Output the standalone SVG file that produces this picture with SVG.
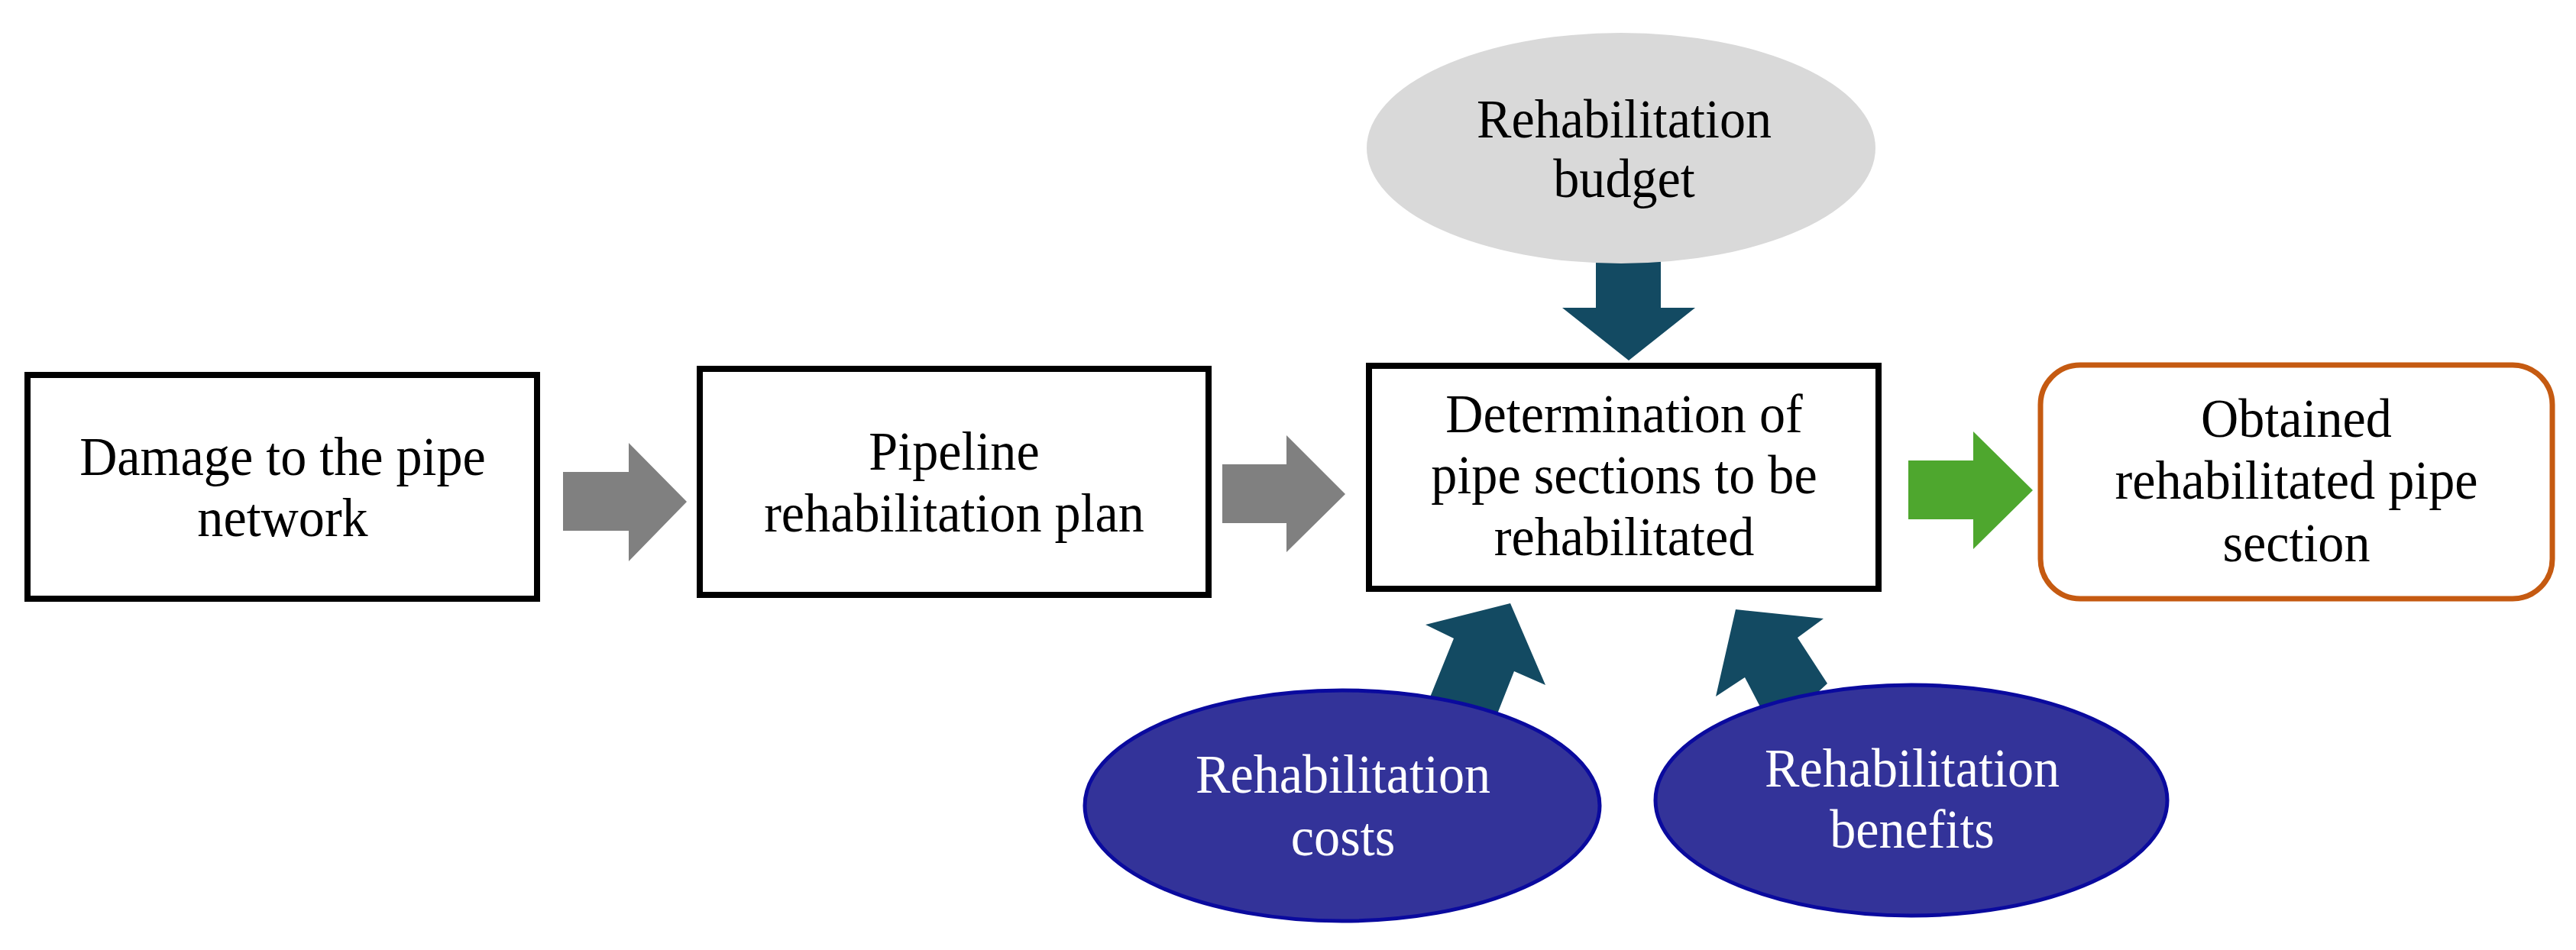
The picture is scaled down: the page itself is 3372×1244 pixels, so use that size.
<svg xmlns="http://www.w3.org/2000/svg" width="3372" height="1244" viewBox="0 0 3372 1244">
<style>
  .box { fill: #ffffff; stroke: #000000; stroke-width: 8; }
  .out { fill: #ffffff; stroke: #c55a11; stroke-width: 7; }
  .budget { fill: #d9d9d9; stroke: none; }
  .blue { fill: #333399; stroke: #0a0a9e; stroke-width: 5; }
  .t { font-family: "Liberation Serif", "Times New Roman", serif; font-size: 71px; text-anchor: middle; fill: #000000; }
  .w { fill: #ffffff; }
  .gray { fill: #808080; }
  .green { fill: #4ea72e; }
  .teal { fill: #134a62; }
</style>
<rect width="3372" height="1244" fill="#ffffff"/>
<g id="connectors">
  <polygon id="arrow-damage-plan" class="gray" points="737,618 823,618 823,580 899,657 823,735 823,695 737,695"/>
  <polygon id="arrow-plan-determination" class="gray" points="1600,608 1684,608 1684,570 1761,647 1684,723 1684,685 1600,685"/>
  <polygon id="arrow-determination-obtained" class="green" points="2498,603 2583,603 2583,565 2661,642 2583,719 2583,680 2498,680"/>
  <polygon id="arrow-budget" class="teal" points="2089,340 2174,340 2174,403 2219,403 2132,472 2045,403 2089,403"/>
  <polygon id="arrow-costs" class="teal" points="1977,790 2023,897 1982,879 1950,960 1865,930 1903,836 1866,818"/>
  <polygon id="arrow-benefits" class="teal" points="2272,798 2387,810 2353,835 2392,895 2322,960 2284,887 2246,912"/>
</g>
<g id="node-damage">
  <rect class="box" x="36" y="491" width="667" height="293"/>
  <g transform="translate(370 0) scale(0.96 1)">
    <text class="t" x="0" y="622">Damage to the pipe</text>
    <text class="t" x="0" y="702">network</text>
  </g>
</g>
<g id="node-plan">
  <rect class="box" x="916" y="483" width="666" height="296"/>
  <g transform="translate(1249 0) scale(0.96 1)">
    <text class="t" x="0" y="615">Pipeline</text>
    <text class="t" x="0" y="696">rehabilitation plan</text>
  </g>
</g>
<g id="node-determination">
  <rect class="box" x="1792" y="479" width="667" height="292"/>
  <g transform="translate(2126 0) scale(0.96 1)">
    <text class="t" x="0" y="566">Determination of</text>
    <text class="t" x="0" y="646">pipe sections to be</text>
    <text class="t" x="0" y="727">rehabilitated</text>
  </g>
</g>
<g id="node-obtained">
  <rect class="out" x="2671" y="478" width="670" height="306" rx="52" ry="52"/>
  <g transform="translate(3006 0) scale(0.96 1)">
    <text class="t" x="0" y="572">Obtained</text>
    <text class="t" x="0" y="653">rehabilitated pipe</text>
    <text class="t" x="0" y="735">section</text>
  </g>
</g>
<g id="node-budget">
  <ellipse class="budget" cx="2122" cy="194" rx="333" ry="151"/>
  <g transform="translate(2126 0) scale(0.96 1)">
    <text class="t" x="0" y="180">Rehabilitation</text>
    <text class="t" x="0" y="258">budget</text>
  </g>
</g>
<g id="node-costs">
  <ellipse class="blue" cx="1757" cy="1055" rx="337" ry="151"/>
  <g transform="translate(1758 0) scale(0.96 1)">
    <text class="t w" x="0" y="1038">Rehabilitation</text>
    <text class="t w" x="0" y="1120">costs</text>
  </g>
</g>
<g id="node-benefits">
  <ellipse class="blue" cx="2502" cy="1048" rx="335" ry="151"/>
  <g transform="translate(2503 0) scale(0.96 1)">
    <text class="t w" x="0" y="1030">Rehabilitation</text>
    <text class="t w" x="0" y="1110">benefits</text>
  </g>
</g>
</svg>
